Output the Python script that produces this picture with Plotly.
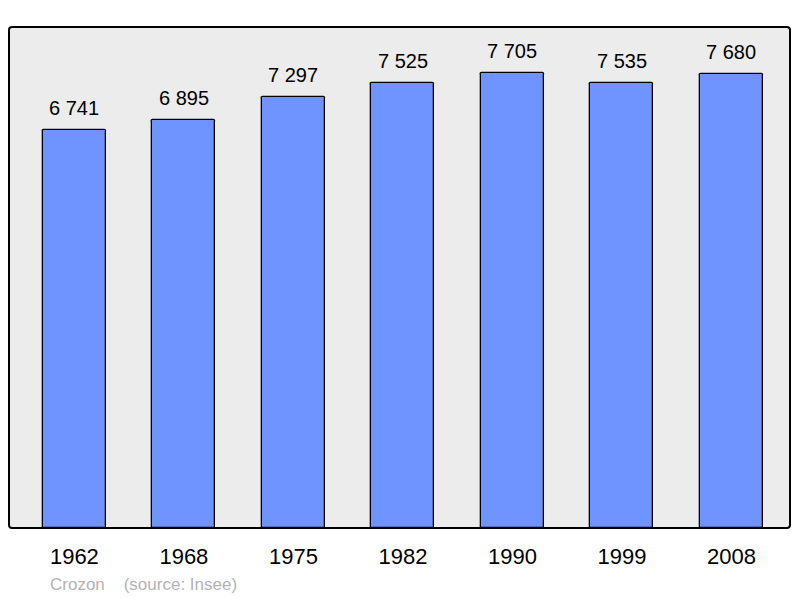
import plotly.graph_objects as go

years = ["1962", "1968", "1975", "1982", "1990", "1999", "2008"]
population = [6741, 6895, 7297, 7525, 7705, 7535, 7680]
labels = ["6 741", "6 895", "7 297", "7 525", "7 705", "7 535", "7 680"]
commune = "Crozon"
source = "(source: Insee)"

FONT = "Liberation Sans, Arial, sans-serif"

fig = go.Figure()
fig.add_trace(go.Bar(
    x=years, y=population,
    width=0.575,
    marker=dict(color="#7094ff", line=dict(color="#000000", width=1.3), cornerradius=2),
    hoverinfo="x+y",
))

for i, (v, t) in enumerate(zip(population, labels)):
    fig.add_annotation(x=i, y=v, text=t, showarrow=False, yanchor="bottom",
                       yshift=9, font=dict(family=FONT, size=20, color="#000000"))

fig.add_annotation(xref="paper", yref="paper", x=0.0495, y=-0.113, xanchor="left", yanchor="middle",
                   text=commune + "\u00a0\u00a0\u00a0\u00a0" + source, showarrow=False,
                   font=dict(family=FONT, size=17, color="#b3b3b3"))

# rounded frame
fig.add_shape(type="path", xref="paper", yref="paper", layer="above",
              path=("M 0.004 0 L 0.996 0 Q 1 0 1 0.006 L 1 0.994 Q 1 1 0.996 1 "
                    "L 0.004 1 Q 0 1 0 0.994 L 0 0.006 Q 0 0 0.004 0 Z"),
              line=dict(color="#000000", width=2))

fig.update_layout(
    width=800, height=598,
    margin=dict(l=9, r=10, t=27, b=70),
    paper_bgcolor="#ffffff",
    plot_bgcolor="#ececec",
    showlegend=False,
    bargap=0,
    xaxis=dict(type="category", range=[-0.597, 6.535], showgrid=False, zeroline=False,
               showline=False, ticks="", ticklabelstandoff=13,
               tickfont=dict(family=FONT, size=22, color="#000000"), fixedrange=True),
    yaxis=dict(range=[0, 8475], showgrid=False, zeroline=False, showticklabels=False,
               showline=False, ticks="", fixedrange=True),
)

fig.write_html("out.html", config={"displayModeBar": False},
               post_script="document.body.style.margin='0';document.body.style.overflow='hidden';")
